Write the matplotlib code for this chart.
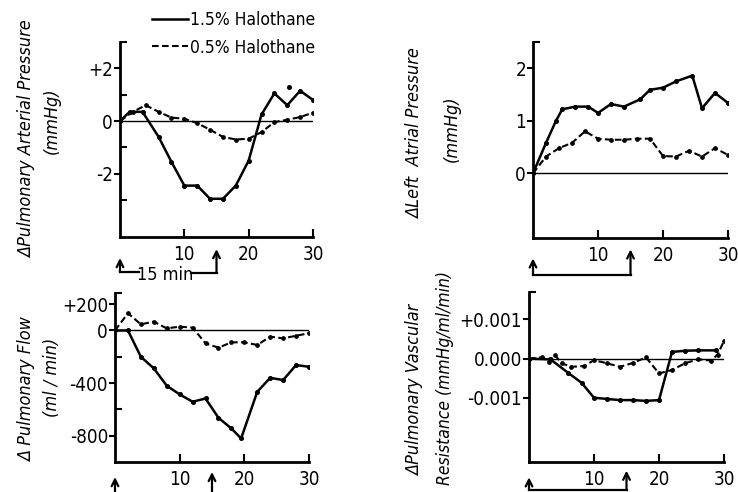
import matplotlib
matplotlib.use("Agg")
import matplotlib.pyplot as plt
from matplotlib.lines import Line2D

plt.rcParams["font.family"] = ["DejaVu Sans"]
plt.rcParams["font.stretch"] = "condensed"

# ---------------- data ----------------
# Pulmonary arterial pressure (mmHg)
t_pap_15 = [0, 1.5, 3.5, 6, 8, 10, 12, 14, 16, 18, 20, 22, 24, 26, 28, 30]
pap_15 = [0, 0.35, 0.35, -0.6, -1.55, -2.45, -2.45, -2.95, -2.95, -2.45, -1.5, 0.25, 1.05, 0.6, 1.15, 0.8]
t_pap_05 = [0, 2, 4, 6, 8, 10, 12, 14, 16, 18, 20, 22, 24, 26, 28, 30]
pap_05 = [0, 0.35, 0.6, 0.35, 0.13, 0.09, -0.08, -0.33, -0.6, -0.7, -0.67, -0.42, -0.04, 0.05, 0.15, 0.32]
t_pap_extra = [26.3]
pap_extra = [1.3]

# Left atrial pressure (mmHg)
t_lap_15 = [0, 2, 3.5, 4.5, 6.5, 8.5, 10, 12, 14, 16.5, 18, 20, 22, 24.5, 26, 28, 30]
lap_15 = [0, 0.58, 0.99, 1.22, 1.27, 1.27, 1.15, 1.32, 1.27, 1.41, 1.59, 1.63, 1.75, 1.86, 1.24, 1.53, 1.34]
t_lap_05 = [0, 2, 4, 6, 8, 10, 12, 14, 16, 18, 20, 22, 24, 26, 28, 30]
lap_05 = [0, 0.32, 0.48, 0.58, 0.8, 0.66, 0.64, 0.64, 0.66, 0.66, 0.33, 0.32, 0.43, 0.32, 0.48, 0.35]

# Pulmonary flow (ml/min)
t_flow_15 = [0, 2, 4, 6, 8, 10, 12, 14, 16, 18, 19.5, 22, 24, 26, 28, 30]
flow_15 = [0, 0, -200, -288, -420, -486, -542, -517, -664, -745, -821, -466, -360, -377, -263, -276]
t_flow_05 = [0, 2, 4, 6, 8, 10, 12, 14, 16, 18, 20, 22, 24, 26, 28, 30]
flow_05 = [0, 131, 47, 67, 16, 29, 22, -98, -131, -90, -90, -110, -47, -60, -40, -21]

# Pulmonary vascular resistance (mmHg/ml/min)
t_pvr_15 = [0, 3.3, 6.0, 8.1, 10, 12, 14, 16, 18, 20, 22, 24, 26, 28.7]
pvr_15 = [0, -0.00002, -0.00036, -0.00062, -0.001, -0.00103, -0.00106, -0.00106, -0.00108, -0.00106,
          0.00017, 0.0002, 0.00021, 0.00021]
t_pvr_05 = [0, 2, 3, 4, 5, 6.5, 8.5, 10, 12, 14, 16, 18, 20, 22, 24, 26, 28, 29, 30]
pvr_05 = [0, 0.00003, -0.00008, 0.00009, -0.00012, -0.00021, -0.00019, -0.00004, -0.00012, -0.00021,
          -0.00011, 0.00003, -0.00038, -0.00029, -0.00012, -0.00002, -0.00005, 0.0001, 0.00045]

x_ticks = [10, 20, 30]
x_ticklabels = ["10", "20", "30"]
legend_labels = ["1.5% Halothane", "0.5% Halothane"]

# ---------------- styling ----------------
W, H = 738, 492
fig = plt.figure(figsize=(W / 100, H / 100), dpi=100)

def px_axes(l, r, t, b):
    return fig.add_axes([l / W, 1 - b / H, (r - l) / W, (b - t) / H])

solid_kw = dict(color="black", lw=1.8, marker="o", ms=2.6, ls="-")
dash_kw = dict(color="black", lw=1.5, marker="o", ms=2.4, ls=(0, (3.2, 1.6)))
TICK_FS = 13.5

def style(ax, ylim, yticks, yticklabels, yminor):
    ax.set_xlim(0, 30)
    ax.set_ylim(*ylim)
    for s in ("top", "right"):
        ax.spines[s].set_visible(False)
    for s in ("left", "bottom"):
        ax.spines[s].set_linewidth(2.0)
    ax.axhline(0, color="black", lw=1.0, zorder=1)
    ax.set_xticks(x_ticks)
    ax.set_xticklabels(x_ticklabels)
    ax.set_yticks(yticks)
    ax.set_yticklabels(yticklabels)
    ax.set_yticks(yminor, minor=True)
    ax.tick_params(axis="x", direction="in", length=6, width=1.5, pad=6, labelsize=TICK_FS)
    ax.tick_params(axis="y", direction="out", length=4, width=1.5, pad=1, labelsize=TICK_FS)
    ax.tick_params(axis="y", which="minor", direction="in", length=5, width=1.5)
    ax.patch.set_alpha(0)

def ylab(x, y, text, fs=13):
    fig.text(x / W, 1 - y / H, text, rotation=90, ha="center", va="center",
             fontsize=fs, style="italic")

def up_arrow(ax, t, y_tip, y_tail):
    tr = ax.get_xaxis_transform()
    ax.annotate("", xy=(t, y_tip), xycoords=tr, xytext=(t, y_tail), textcoords=tr,
                arrowprops=dict(arrowstyle="->", lw=1.6, color="black",
                                mutation_scale=12, shrinkA=0, shrinkB=0),
                annotation_clip=False)

def hline(ax, t0, t1, y):
    tr = ax.get_xaxis_transform()
    ax.add_line(Line2D([t0, t1], [y, y], transform=tr, color="black", lw=1.6, clip_on=False))

# Top-left: pulmonary arterial pressure
ax1 = px_axes(120, 313, 42, 237)
ax1.plot(t_pap_15, pap_15, **solid_kw, label=legend_labels[0])
ax1.plot(t_pap_05, pap_05, **dash_kw, label=legend_labels[1])
ax1.plot(t_pap_extra, pap_extra, "o", color="black", ms=2.6)
style(ax1, (-4.4, 3.0), [-2, 0, 2], ["-2", "0", "+2"], [-3, -1, 1, 3])
up_arrow(ax1, 0, -0.108, -0.18)
up_arrow(ax1, 15, -0.062, -0.183)
hline(ax1, 0, 3.0, -0.18)
hline(ax1, 11.0, 15, -0.183)
ax1.text(7.0, -0.195, "15 min", transform=ax1.get_xaxis_transform(), ha="center",
         va="center", fontsize=13)
ylab(27, 139, "\u0394Pulmonary Arterial Pressure")
ylab(52, 121, "(mmHg)")
leg = ax1.legend(loc="upper left", bbox_to_anchor=(152 / W, 1 - 11 / H),
                 bbox_transform=fig.transFigure, frameon=False, fontsize=12.5,
                 handlelength=2.1, handletextpad=0.1, borderpad=0, borderaxespad=0,
                 labelspacing=0.55)
for h in leg.legend_handles:
    h.set_marker("")

# Top-right: left atrial pressure
ax2 = px_axes(533, 728, 42, 238)
ax2.plot(t_lap_15, lap_15, **solid_kw)
ax2.plot(t_lap_05, lap_05, **dash_kw)
style(ax2, (-1.23, 2.5), [0, 1, 2], ["0", "1", "2"], [2.5])
up_arrow(ax2, 0, -0.104, -0.189)
up_arrow(ax2, 15, -0.058, -0.189)
hline(ax2, 0, 15, -0.189)
ylab(415, 134, "\u0394Left  Atrial Pressure")
ylab(452, 129, "(mmHg)")

# Bottom-left: pulmonary flow
ax3 = px_axes(115, 309, 293, 462)
ax3.plot(t_flow_15, flow_15, **solid_kw)
ax3.plot(t_flow_05, flow_05, **dash_kw)
style(ax3, (-1000, 285), [-800, -400, 0, 200], ["-800", "-400", "0", "+200"], [-600, -200, 285])
up_arrow(ax3, 0, -0.089, -0.2)
up_arrow(ax3, 15, -0.059, -0.2)
ylab(27, 390, "\u0394 Pulmonary Flow")
ylab(52, 377, "(ml / min)")

# Bottom-right: pulmonary vascular resistance
ax4 = px_axes(529, 724, 292, 462)
ax4.plot(t_pvr_15, pvr_15, **solid_kw)
ax4.plot(t_pvr_05, pvr_05, **dash_kw)
style(ax4, (-0.00264, 0.0017), [-0.001, 0, 0.001], ["-0.001", "0.000", "+0.001"], [0.0017])
up_arrow(ax4, 0, -0.09, -0.165)
up_arrow(ax4, 15, -0.051, -0.165)
hline(ax4, 0, 15, -0.165)
ylab(415, 390, "\u0394Pulmonary Vascular")
ylab(445, 378, "Resistance (mmHg/ml/min)", fs=12.5)

fig.savefig("out.png", dpi=100)
